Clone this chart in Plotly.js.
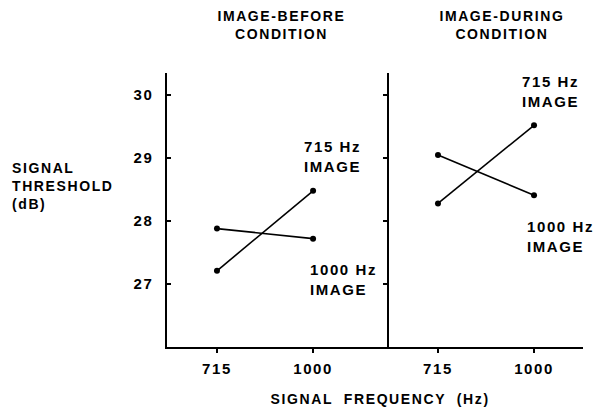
<!DOCTYPE html>
<html><head><meta charset="utf-8">
<script src="https://cdn.plot.ly/plotly-3.0.1.min.js"></script>
<style>html,body{margin:0;padding:0;background:#fff}
#chart text{letter-spacing:1.6px}</style>
</head><body><div id="chart" style="width:608px;height:408px"></div>
<script>
const freqs = ["715", "1000"];
const beforeImg715 = [27.21, 28.48];
const beforeImg1000 = [27.88, 27.72];
const duringImg715 = [28.28, 29.52];
const duringImg1000 = [29.05, 28.41];
const yTicks = [27, 28, 29, 30];

const F = "Liberation Sans, Arial, sans-serif";
const line = {color: "#000", width: 1.6};
const marker = {color: "#000", size: 6};
function tr(x, y, xa, ya) {
  return {x: x, y: y, xaxis: xa, yaxis: ya, type: "scatter", mode: "lines+markers",
          line: line, marker: marker, showlegend: false, hoverinfo: "skip"};
}
const data = [
  tr(freqs, beforeImg715, "x", "y"),
  tr(freqs, beforeImg1000, "x", "y"),
  tr(freqs, duringImg715, "x2", "y2"),
  tr(freqs, duringImg1000, "x2", "y2")
];
const yr = [26, 30.35];
const tickFont = {family: F, size: 15, color: "#000", weight: "bold"};
const split = (389 - 167) / 416;
const baseX = {type: "category", categoryorder: "array", categoryarray: freqs,
  showgrid: false, zeroline: false, tickfont: tickFont, tickcolor: "#000",
  ticklen: 4, tickwidth: 1.3, fixedrange: true};
const layout = {
  width: 608, height: 408,
  margin: {l: 167, r: 25, t: 73, b: 61},
  paper_bgcolor: "#fff", plot_bgcolor: "#fff",
  font: {family: F, color: "#000"},
  xaxis: Object.assign({}, baseX, {domain: [0, split], range: [-0.52, 1.79], anchor: "y",
    showline: true, linecolor: "#000", linewidth: 1.6, ticks: "outside", ticklabelstandoff: 3}),
  xaxis3: Object.assign({}, baseX, {domain: [0, split], range: [-0.52, 1.79], anchor: "y",
    overlaying: "x", ticks: "inside", showticklabels: false, showline: false}),
  xaxis2: Object.assign({}, baseX, {domain: [split, 1], range: [-0.51, 1.51], anchor: "y2",
    showline: true, linecolor: "#000", linewidth: 1.6, ticks: "outside", ticklabelstandoff: 3}),
  xaxis4: Object.assign({}, baseX, {domain: [split, 1], range: [-0.51, 1.51], anchor: "y2",
    overlaying: "x2", ticks: "inside", showticklabels: false, showline: false}),
  yaxis: {range: yr, tickvals: yTicks, ticks: "inside", ticklen: 4, tickwidth: 1.3, tickcolor: "#000",
    showline: true, linecolor: "#000", linewidth: 1.6, showgrid: false, zeroline: false,
    tickfont: tickFont, ticklabelstandoff: 9, anchor: "x", fixedrange: true},
  yaxis2: {range: yr, tickvals: yTicks, ticks: "outside", ticklen: 4, tickwidth: 1.3, tickcolor: "#000",
    showline: true, linecolor: "#000", linewidth: 2, showgrid: false, zeroline: false,
    showticklabels: false, anchor: "x2", fixedrange: true},
  yaxis3: {range: yr, tickvals: yTicks, ticks: "inside", ticklen: 4, tickwidth: 1.3, tickcolor: "#000",
    showline: false, showgrid: false, zeroline: false, showticklabels: false,
    anchor: "x2", overlaying: "y2", fixedrange: true},
  annotations: []
};
function ann(text, x, y, size, align) {
  return {text: text, xref: "paper", yref: "paper", x: x, y: y, xanchor: "center", yanchor: "middle",
    showarrow: false, font: {family: F, size: size, weight: "bold"}, align: align || "center"};
}
layout.annotations = [
  ann("IMAGE-BEFORE<br>CONDITION", 0.276, 1.175, 14),
  ann("IMAGE-DURING<br>CONDITION", 0.805, 1.175, 14),
  Object.assign(ann("SIGNAL<br>THRESHOLD<br>(dB)", -0.377, 0.588, 14, "left"), {xanchor: "left"}),
  ann("SIGNAL  FREQUENCY  (Hz)", 0.512, -0.19, 14),
  ann("715 Hz<br>IMAGE", 0.397, 0.697, 15),
  ann("1000 Hz<br>IMAGE", 0.411, 0.248, 15, "left"),
  ann("715 Hz<br>IMAGE", 0.923, 0.934, 15),
  ann("1000 Hz<br>IMAGE", 0.933, 0.405, 15, "left")
];
Plotly.newPlot("chart", data, layout, {displayModeBar: false, staticPlot: true});
</script></body></html>
